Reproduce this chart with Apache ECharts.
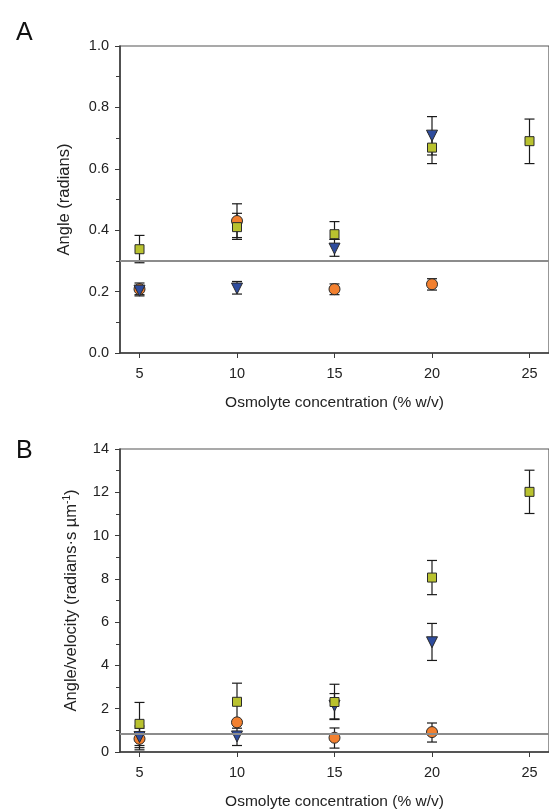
<!DOCTYPE html>
<html>
<head>
    <meta charset="utf-8">
    <title>Osmolyte angle chart</title>
    <script src="https://cdn.jsdelivr.net/npm/echarts@6/dist/echarts.min.js"></script>
    <style>
        html, body { margin: 0; padding: 0; background: #fff; }
        #chart { width: 549px; height: 811px; }
    </style>
</head>
<body>
<div id="chart"></div>
<script type="text/javascript">

    /* 数据 */
    var xTicks = [5, 10, 15, 20, 25];

    // panel A: [x, mean, low, high]
    var angleCircle = [[5, 0.208, 0.19, 0.228], [10, 0.43, 0.376, 0.455], [15, 0.208, 0.19, 0.225], [20, 0.224, 0.205, 0.242]];
    var angleTriangle = [[5, 0.203, 0.186, 0.22], [10, 0.21, 0.192, 0.233], [15, 0.34, 0.315, 0.37], [20, 0.708, 0.645, 0.77]];
    var angleSquare = [[5, 0.338, 0.294, 0.383], [10, 0.41, 0.37, 0.486], [15, 0.387, 0.37, 0.428], [20, 0.669, 0.617, 0.72], [25, 0.69, 0.617, 0.762]];
    var angleRef = 0.3;

    // panel B: [x, mean, low, high]
    var ratioCircle = [[5, 0.61, 0.1, 1.1], [10, 1.37, 1.3, 1.44], [15, 0.66, 0.18, 1.11], [20, 0.92, 0.46, 1.34]];
    var ratioTriangle = [[5, 0.69, 0.2, 1.2], [10, 0.72, 0.3, 1.1], [15, 2.14, 1.53, 2.7], [20, 5.07, 4.23, 5.94]];
    var ratioSquare = [[5, 1.3, 0.3, 2.29], [10, 2.32, 1.46, 3.18], [15, 2.31, 1.5, 3.13], [20, 8.06, 7.27, 8.85], [25, 12.02, 11.02, 13.02]];
    var ratioRef = 0.85;

    var txt = '#222';
    var axisCol = '#3a3a3a';
    var fontFam = '"Liberation Sans", Arial, sans-serif';

    function xAxisCfg(idx) {
        return {
            type: 'value', gridIndex: idx, min: 4, max: 26,
            name: 'Osmolyte concentration (% w/v)',
            nameLocation: 'middle', nameGap: 42,
            nameTextStyle: { color: txt, fontSize: 15.5, fontFamily: fontFam },
            axisLine: { lineStyle: { color: axisCol, width: 1.5 } },
            axisTick: { customValues: xTicks, length: 5, lineStyle: { color: axisCol } },
            axisLabel: { customValues: xTicks, color: txt, fontSize: 14.5, fontFamily: fontFam, margin: 13 },
            splitLine: { show: false }
        };
    }

    function yAxisCfg(idx, max, step, name, gap, fmt) {
        return {
            type: 'value', gridIndex: idx, min: 0, max: max, interval: step,
            name: name, nameLocation: 'middle', nameGap: gap,
            nameTextStyle: {
                color: txt, fontSize: 16.5, fontFamily: fontFam,
                rich: { sup: { fontSize: 10, verticalAlign: 'top', padding: [0, 0, 8, 0], color: txt, fontFamily: fontFam } }
            },
            axisLine: { lineStyle: { color: axisCol, width: 1.5 } },
            axisTick: { length: 5, lineStyle: { color: axisCol } },
            minorTick: { show: true, splitNumber: 2, length: 4, lineStyle: { color: axisCol } },
            axisLabel: { color: txt, fontSize: 14.5, fontFamily: fontFam, margin: 11, formatter: fmt },
            splitLine: { show: false }
        };
    }

    function errSeries(idx, rows) {
        return {
            type: 'custom', xAxisIndex: idx, yAxisIndex: idx, silent: true, z: 2,
            data: rows.map(function (r) { return [r[0], r[2], r[3]]; }),
            encode: { x: 0, y: [1, 2] },
            renderItem: function (params, api) {
                var lo = api.coord([api.value(0), api.value(1)]);
                var hi = api.coord([api.value(0), api.value(2)]);
                var w = 5;
                var st = { stroke: '#1a1a1a', lineWidth: 1.2 };
                return {
                    type: 'group',
                    children: [
                        { type: 'line', shape: { x1: lo[0], y1: lo[1], x2: hi[0], y2: hi[1] }, style: st },
                        { type: 'line', shape: { x1: lo[0] - w, y1: lo[1], x2: lo[0] + w, y2: lo[1] }, style: st },
                        { type: 'line', shape: { x1: hi[0] - w, y1: hi[1], x2: hi[0] + w, y2: hi[1] }, style: st }
                    ]
                };
            }
        };
    }

    function markSeries(idx, rows, symbol, size, color, z, rotate) {
        return {
            type: 'scatter', xAxisIndex: idx, yAxisIndex: idx, z: z,
            symbol: symbol, symbolSize: size, symbolRotate: rotate || 0,
            itemStyle: { color: color, borderColor: '#2a2a2a', borderWidth: 1, opacity: 1 },
            data: rows.map(function (r) { return [r[0], r[1]]; })
        };
    }

    function refLine(idx, val) {
        return {
            type: 'line', xAxisIndex: idx, yAxisIndex: idx, data: [], z: 1,
            markLine: {
                silent: true, symbol: 'none', label: { show: false },
                lineStyle: { color: '#8c8c8c', width: 2, type: 'solid' },
                data: [{ yAxis: val }]
            }
        };
    }

    var orange = '#F2802F', blue = '#2E4C9E', green = '#B9C22F';

    var chart = echarts.init(document.getElementById('chart'));
    chart.setOption({
        animation: false,
        backgroundColor: '#fff',
        title: [
            { text: 'A', left: 11, top: 16, textStyle: { fontSize: 25, fontWeight: 'normal', color: '#111', fontFamily: fontFam } },
            { text: 'B', left: 11, top: 434, textStyle: { fontSize: 25, fontWeight: 'normal', color: '#111', fontFamily: fontFam } }
        ],
        grid: [
            { left: 120, top: 46, width: 437, height: 307, show: true, borderColor: '#555', borderWidth: 1.2 },
            { left: 120, top: 449, width: 437, height: 305, show: true, borderColor: '#555', borderWidth: 1.2 }
        ],
        xAxis: [xAxisCfg(0), xAxisCfg(1)],
        yAxis: [
            yAxisCfg(0, 1, 0.2, 'Angle (radians)', 47, function (v) { return v.toFixed(1); }),
            yAxisCfg(1, 14, 2, 'Angle/velocity (radians·s µm{sup|-1})', 40, function (v) { return v; })
        ],
        series: [
            refLine(0, angleRef),
            refLine(1, ratioRef),
            errSeries(0, angleCircle), errSeries(0, angleTriangle), errSeries(0, angleSquare),
            errSeries(1, ratioCircle), errSeries(1, ratioTriangle), errSeries(1, ratioSquare),
            markSeries(0, angleCircle, 'circle', 11, orange, 3),
            markSeries(0, angleTriangle, 'triangle', 11, blue, 4, 180),
            markSeries(0, angleSquare, 'rect', 9, green, 5),
            markSeries(1, ratioCircle, 'circle', 11, orange, 3),
            markSeries(1, ratioTriangle, 'triangle', 11, blue, 4, 180),
            markSeries(1, ratioSquare, 'rect', 9, green, 5)
        ]
    });
</script>
</body>
</html>
